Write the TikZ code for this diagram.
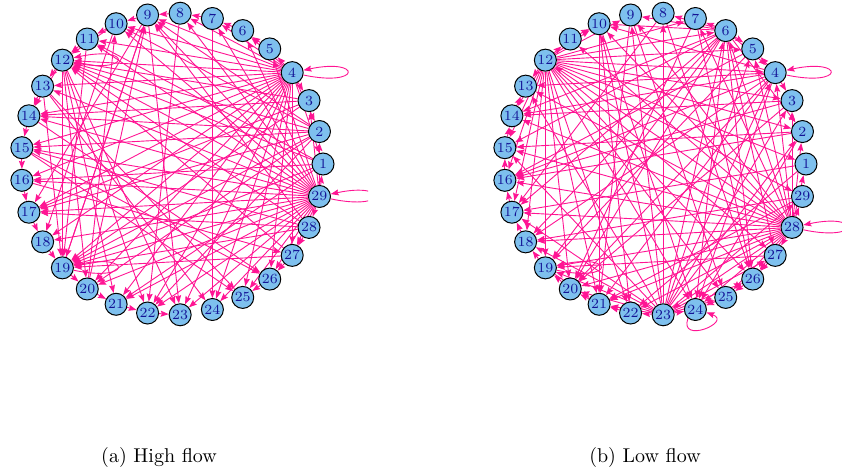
\documentclass[tikz,border=0pt]{standalone}
\usetikzlibrary{arrows.meta}
\usepackage{xcolor}
\definecolor{vertexblue}{RGB}{126,192,238}
\definecolor{labelblue}{RGB}{20,20,150}
\definecolor{flowpink}{RGB}{255,20,147}
\pgfdeclarelayer{edges}
\pgfsetlayers{edges,main}

\begin{document}
\begin{tikzpicture}[x=0.5pt, y=0.5pt,
  vtx/.style={circle, draw=black, line width=0.5pt, fill=vertexblue, minimum size=11pt,
    inner sep=0pt, text=labelblue, font=\fontsize{7}{8}\selectfont},
  flow/.style={draw=flowpink, line width=0.45pt, -{Stealth[length=4pt, width=3pt, inset=0.6pt]}},
  selfloop/.style={flow, distance=30pt}]
  \useasboundingbox (0,0) rectangle (842,473);

  % (a) High flow
  \foreach \i in {1,...,29}
    \node[vtx] (h\i) at ({172+151*cos((\i-1)*360/29)}, {309+151*sin((\i-1)*360/29)}) {\i};
  \begin{pgfonlayer}{edges}
  \begin{scope}
    \clip (0,0) rectangle (368,473);
    % hubs
    \foreach \t in {1,2,3,5,6,...,27}
      \draw[flow] (h4) -- (h\t);
    \foreach \t in {1,2,3,5,6,...,28}
      \draw[flow] (h29) -- (h\t);
    % the rest
    \foreach \s/\t in {2/12,2/14,2/15,2/17,2/19,2/20,2/22,2/10,2/9,
        1/12,1/16,1/19,1/21,1/11,3/12,3/19,3/17,3/14,
        28/12,28/19,28/17,28/15,28/9,27/19,27/12,
        12/13,12/14,12/19,12/20,12/21,12/22,12/23,
        13/14,13/19,13/24,13/25,14/15,14/26,15/16,15/25,15/26,16/17,16/27,
        17/18,18/19,19/20,19/9,20/21,20/9,20/10,21/22,22/23,
        11/12,11/19,10/11,10/18,10/12,9/10,9/17,9/19,9/23,8/9,8/22,
        7/8,7/24,6/7,5/6,26/25,27/26,28/27}
      \draw[flow] (h\s) -- (h\t);
    % loops
    \foreach \v in {4,29,12,19}
      \draw[selfloop] (h\v.-12) to[out=-12, in=12] (h\v.12);
  \end{scope}
  \end{pgfonlayer}
  \node (capa) at (159,16) {(a) High flow};

  % (b) Low flow
  \foreach \i in {1,...,29}
    \node[vtx] (l\i) at ({655+151*cos((\i-1)*360/29)}, {309+151*sin((\i-1)*360/29)}) {\i};
  \begin{pgfonlayer}{edges}
  \begin{scope}
    \clip (470,0) rectangle (842,473);
    % hubs
    \foreach \t in {1,...,7,9,10,...,27,29}
      \draw[flow] (l28) -- (l\t);
    \foreach \t in {1,...,7,9,10,11,13,14,...,22,24,25,26,27,29}
      \draw[flow] (l12) -- (l\t);
    \foreach \t in {2,3,4,5,6,8,9,10,13,15,17,18,...,22,24,25,26,27,29}
      \draw[flow] (l23) -- (l\t);
    \foreach \t in {2,4,5,7,8,9,10,14,15,17,18,19,20,24,26,27}
      \draw[flow] (l6) -- (l\t);
    \foreach \t in {3,5,10,13,14,16,18,20,21,24}
      \draw[flow] (l4) -- (l\t);
    % the rest
    \foreach \s/\t in {8/17,8/26,10/22,10/24,10/21,9/21,9/25,7/26,7/20,5/19,5/16,
        3/14,3/16,3/20,2/16,2/15,2/24,1/17,1/22,29/18,29/21,27/26,27/19,
        26/25,25/24,22/21,21/20,20/19,19/18,19/21,18/17,17/16,16/15,15/14,
        14/13,11/10}
      \draw[flow] (l\s) -- (l\t);
    % loops
    \foreach \v in {4,28,19}
      \draw[selfloop] (l\v.-12) to[out=-12, in=12] (l\v.12);
    \draw[flow] (l24.-130) to[out=-110, in=-20, distance=14pt] (l24.-15);
  \end{scope}
  \end{pgfonlayer}
  \node (capb) at (645,16) {(b) Low flow};
\end{tikzpicture}
\end{document}
